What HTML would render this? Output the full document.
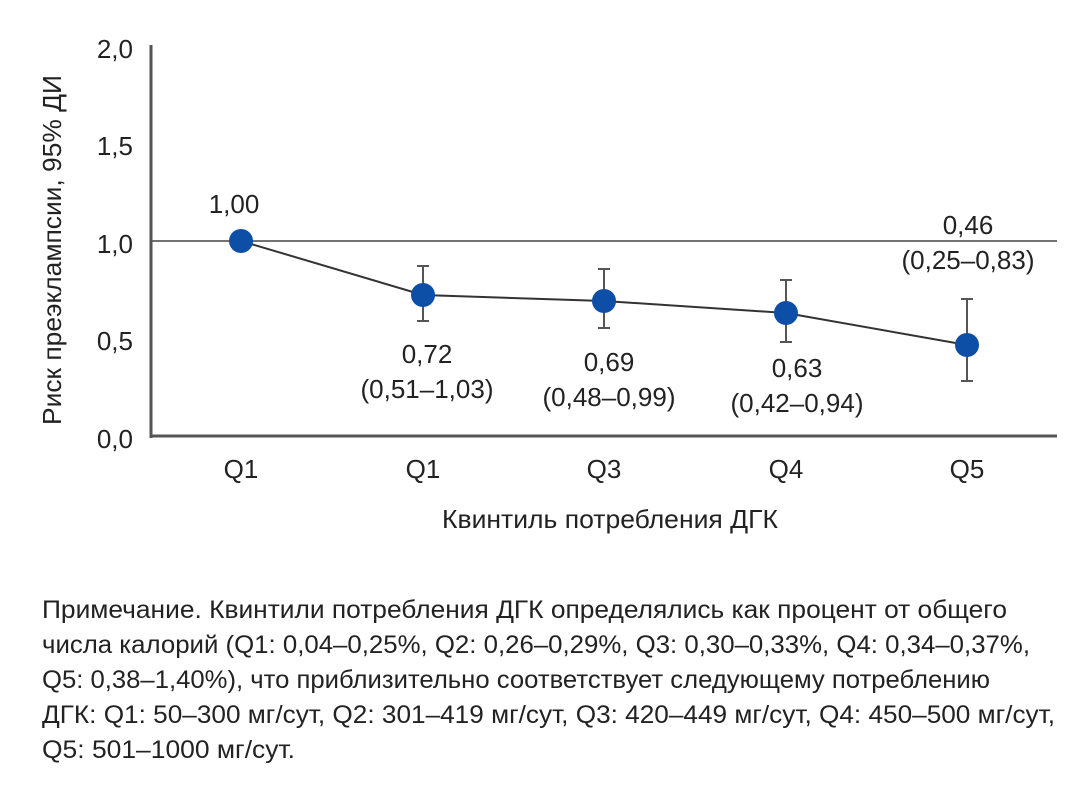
<!DOCTYPE html>
<html><head><meta charset="utf-8"><style>
body{margin:0;background:#fff;width:1092px;height:789px;overflow:hidden}
svg text{font-family:"Liberation Sans Narrow","Liberation Sans",sans-serif;fill:#222}
</style></head><body>
<svg width="1092" height="789" viewBox="0 0 1092 789" xmlns="http://www.w3.org/2000/svg">
<g font-size="26">
<text x="133" y="58" text-anchor="end">2,0</text>
<text x="133" y="155" text-anchor="end">1,5</text>
<text x="133" y="253" text-anchor="end">1,0</text>
<text x="133" y="350" text-anchor="end">0,5</text>
<text x="133" y="448" text-anchor="end">0,0</text>
<text transform="translate(61,250) rotate(-90)" text-anchor="middle" textLength="350" lengthAdjust="spacingAndGlyphs">Риск преэклампсии, 95% ДИ</text>
<text x="241" y="478" text-anchor="middle">Q1</text>
<text x="423" y="478" text-anchor="middle">Q1</text>
<text x="604" y="478" text-anchor="middle">Q3</text>
<text x="786" y="478" text-anchor="middle">Q4</text>
<text x="967" y="478" text-anchor="middle">Q5</text>
<text x="610" y="528" text-anchor="middle" textLength="336" lengthAdjust="spacingAndGlyphs">Квинтиль потребления ДГК</text>
<text x="234" y="213" text-anchor="middle">1,00</text>
<text x="427" y="363" text-anchor="middle">0,72</text>
<text x="427" y="398" text-anchor="middle">(0,51–1,03)</text>
<text x="609" y="371" text-anchor="middle">0,69</text>
<text x="609" y="406" text-anchor="middle">(0,48–0,99)</text>
<text x="797" y="377" text-anchor="middle">0,63</text>
<text x="797" y="412" text-anchor="middle">(0,42–0,94)</text>
<text x="968" y="234" text-anchor="middle">0,46</text>
<text x="968" y="269" text-anchor="middle">(0,25–0,83)</text>
</g>
<line x1="151" y1="241" x2="1057" y2="241" stroke="#444" stroke-width="1.5"/>
<line x1="151" y1="45" x2="151" y2="438" stroke="#555" stroke-width="3"/>
<line x1="150" y1="436" x2="1057" y2="436" stroke="#555" stroke-width="3"/>
<g stroke="#555" stroke-width="2">
<line x1="423" y1="266" x2="423" y2="321"/><line x1="417" y1="266" x2="429" y2="266"/><line x1="417" y1="321" x2="429" y2="321"/>
<line x1="604" y1="269" x2="604" y2="328"/><line x1="598" y1="269" x2="610" y2="269"/><line x1="598" y1="328" x2="610" y2="328"/>
<line x1="786" y1="280" x2="786" y2="342"/><line x1="780" y1="280" x2="792" y2="280"/><line x1="780" y1="342" x2="792" y2="342"/>
<line x1="967" y1="299" x2="967" y2="381"/><line x1="961" y1="299" x2="973" y2="299"/><line x1="961" y1="381" x2="973" y2="381"/>
</g>
<polyline points="241,241 423,295 604,301 786,313 967,345" fill="none" stroke="#333" stroke-width="2"/>
<g fill="#0d4ea6">
<circle cx="241" cy="241" r="12"/><circle cx="423" cy="295" r="12"/><circle cx="604" cy="301" r="12"/><circle cx="786" cy="313" r="12"/><circle cx="967" cy="345" r="12"/>
</g>
<g font-size="25">
<text x="42" y="618" textLength="965" lengthAdjust="spacingAndGlyphs">Примечание. Квинтили потребления ДГК определялись как процент от общего</text>
<text x="42" y="653" textLength="988" lengthAdjust="spacingAndGlyphs">числа калорий (Q1: 0,04–0,25%, Q2: 0,26–0,29%, Q3: 0,30–0,33%, Q4: 0,34–0,37%,</text>
<text x="42" y="688" textLength="948" lengthAdjust="spacingAndGlyphs">Q5: 0,38–1,40%), что приблизительно соответствует следующему потреблению</text>
<text x="42" y="723" textLength="1013" lengthAdjust="spacingAndGlyphs">ДГК: Q1: 50–300 мг/сут, Q2: 301–419 мг/сут, Q3: 420–449 мг/сут, Q4: 450–500 мг/сут,</text>
<text x="42" y="758" textLength="253" lengthAdjust="spacingAndGlyphs">Q5: 501–1000 мг/сут.</text>
</g>
</svg>
</body></html>
